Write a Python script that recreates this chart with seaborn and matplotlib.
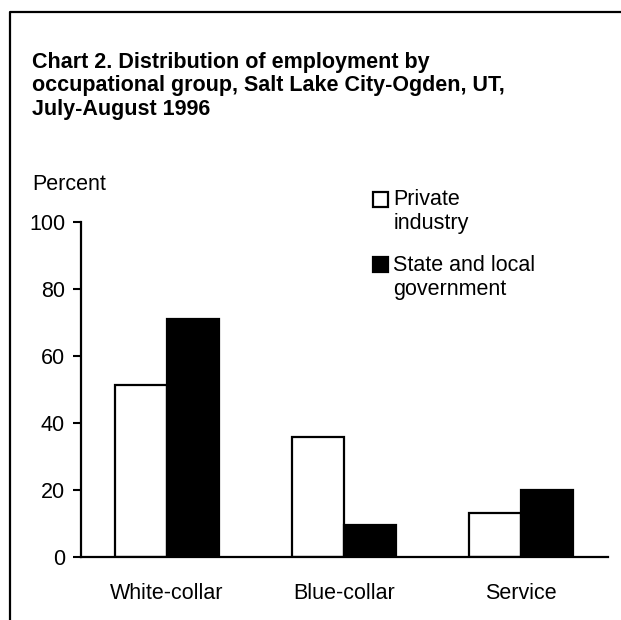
"""Chart 2: employment by occupational group, Salt Lake City-Ogden."""

import matplotlib
import matplotlib.patches as mpatches
import pandas as pd
import seaborn as sns
from matplotlib.legend_handler import HandlerPatch
from matplotlib.lines import Line2D

matplotlib.use("Agg")
import matplotlib.pyplot as plt

groups = ["White-collar", "Blue-collar", "Service"]
sectors = ["Private\nindustry", "State and local\ngovernment"]
private_pct = [51.3, 35.8, 13.1]
government_pct = [71.0, 9.6, 20.0]
y_ticks = [0, 20, 40, 60, 80, 100]

df = pd.DataFrame({
    "group": groups * 2,
    "sector": [sectors[0]] * 3 + [sectors[1]] * 3,
    "percent": private_pct + government_pct,
})

FS = 15.5

sns.set_style("white")
plt.rcParams["font.family"] = ["Liberation Sans", "DejaVu Sans"]
plt.rcParams["font.size"] = FS
plt.rcParams["text.color"] = "black"

fig = plt.figure(figsize=(6.21, 6.20), dpi=100)
ax = fig.add_axes([81 / 621, 1 - 557 / 620, 527 / 621, 335 / 620])

sns.barplot(
    data=df, x="group", y="percent", hue="sector", hue_order=sectors,
    palette={sectors[0]: "white", sectors[1]: "black"},
    width=0.59, edgecolor="black", linewidth=1.6, ax=ax,
)

ax.set_xlim(-0.486, 2.49)
ax.set_ylim(0, 100)
ax.set_yticks(y_ticks)
ax.set_xlabel("")
ax.set_ylabel("")
sns.despine(ax=ax)
for side in ["left", "bottom"]:
    ax.spines[side].set_linewidth(1.6)
    ax.spines[side].set_color("black")
ax.tick_params(axis="y", direction="out", length=5.5, width=1.5, color="black",
               pad=6, labelsize=FS, labelcolor="black", left=True)
ax.tick_params(axis="x", length=0, pad=19, labelsize=FS, labelcolor="black")


def raised_square(legend, orig_handle, xdescent, ydescent, width, height, fontsize):
    # keep the swatch level with the first line of a two-line label
    return mpatches.Rectangle((-xdescent, -ydescent + 0.6 * fontsize), width, height)


sns.move_legend(
    ax, "upper left", bbox_to_anchor=(373 / 621, 1 - 189 / 620),
    bbox_transform=fig.transFigure, frameon=False, title=None,
    handlelength=0.7, handleheight=0.7, handletextpad=0.25,
    labelspacing=0.95, borderpad=0, borderaxespad=0, fontsize=FS,
    handler_map={mpatches.Patch: HandlerPatch(patch_func=raised_square)},
)

fig.text(32 / 621, 1 - 52 / 620,
         "Chart 2. Distribution of employment by\n"
         "occupational group, Salt Lake City-Ogden, UT,\n"
         "July-August 1996",
         ha="left", va="top", fontsize=FS, fontweight="bold", linespacing=1.15)
fig.text(32 / 621, 1 - 185 / 620, "Percent", ha="left", va="center", fontsize=FS)

# outer frame: top and left edges only
fig.add_artist(Line2D([9.5 / 621, 9.5 / 621, 1], [0, 1 - 12 / 620, 1 - 12 / 620],
                      transform=fig.transFigure, color="black", linewidth=1.6))

fig.savefig("out.png", dpi=100)
plt.close(fig)
